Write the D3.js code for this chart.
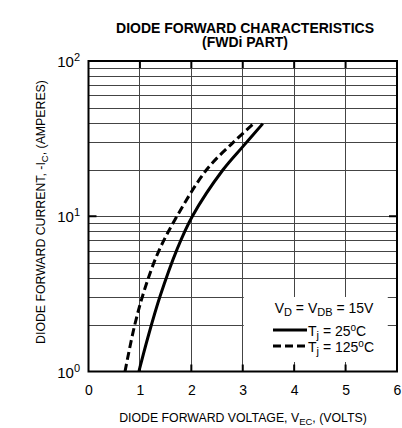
<!DOCTYPE html>
<meta charset="utf-8" />
<head>
  <script src="https://cdn.jsdelivr.net/npm/d3@7"></script>
  <title>Diode forward characteristics</title>
  <style>
    body { margin: 0; background: #fff; }
    svg text { font-family: "Liberation Sans", Arial, sans-serif; fill: #000; }
    .grid line { stroke: #444; stroke-width: 1; shape-rendering: crispEdges; }
  </style>
</head>
<body>
  <svg id="chart" width="402" height="428"></svg>
</body>

<script>
  // values (volts, amperes)
  const vf25 = [0.98, 1.16, 1.39, 1.72, 2.02, 2.62, 3.01, 3.39];
  const if25 = [1.0, 1.68, 3.04, 6.1, 10, 20, 28.3, 39.5];
  const vf125 = [0.71, 0.9, 1.1, 1.36, 1.72, 2.3, 2.82, 3.21];
  const if125 = [1.0, 2.0, 3.45, 5.9, 10, 20, 30, 39.5];
  const xTicks = [0, 1, 2, 3, 4, 5, 6];
  const yTicks = [1, 10, 100];
  const yExp = ["0", "1", "2"];

  const svg = d3.select("#chart");
  const margin = { top: 61, right: 5, bottom: 56.5, left: 88.5 };
  const width = +svg.attr("width"),
    height = +svg.attr("height");

  const x = d3.scaleLinear().domain([0, 6]).range([margin.left, width - margin.right]);
  const y = d3.scaleLog().domain([1, 100]).range([height - margin.bottom, margin.top]);

  // grid
  const grid = svg.append("g").attr("class", "grid");
  const minor = [];
  [1, 10].forEach((d) => {
    for (let k = 2; k <= 9; k++) minor.push(d * k);
  });
  minor.push(10);
  grid
    .selectAll(".h")
    .data(minor)
    .enter()
    .append("line")
    .attr("x1", x(0))
    .attr("x2", x(6))
    .attr("y1", (d) => Math.round(y(d)) + 0.5)
    .attr("y2", (d) => Math.round(y(d)) + 0.5);
  grid
    .selectAll(".v")
    .data([1, 2, 3, 4, 5])
    .enter()
    .append("line")
    .attr("x1", (d) => x(d))
    .attr("x2", (d) => x(d))
    .attr("y1", y(1))
    .attr("y2", y(100));

  // curves
  const line = d3
    .line()
    .curve(d3.curveCatmullRom.alpha(0.5))
    .x((d) => x(d[0]))
    .y((d) => y(d[1]));

  svg
    .append("defs")
    .append("clipPath")
    .attr("id", "clip")
    .append("rect")
    .attr("x", x(0))
    .attr("y", y(100))
    .attr("width", x(6) - x(0))
    .attr("height", y(1) - y(100));

  const g = svg.append("g").attr("clip-path", "url(#clip)");
  g.append("path")
    .attr("fill", "none")
    .attr("stroke", "#000")
    .attr("stroke-width", 3)
    .attr("d", line(vf25.map((v, i) => [v, if25[i]])));
  g.append("path")
    .attr("fill", "none")
    .attr("stroke", "#000")
    .attr("stroke-width", 3)
    .attr("stroke-dasharray", "8,4")
    .attr("d", line(vf125.map((v, i) => [v, if125[i]])));

  // legend box
  const lg = svg.append("g");
  lg.append("rect")
    .attr("x", x(3) + 1)
    .attr("y", 297)
    .attr("width", 144)
    .attr("height", 65)
    .attr("fill", "#fff");
  const vd = lg
    .append("text")
    .attr("x", 324)
    .attr("y", 313)
    .attr("text-anchor", "middle")
    .style("font-size", "14px");
  vd.append("tspan").text("V");
  vd.append("tspan").attr("font-size", "11px").attr("baseline-shift", "-3").text("D");
  vd.append("tspan").text(" = V");
  vd.append("tspan").attr("font-size", "11px").attr("baseline-shift", "-3").text("DB");
  vd.append("tspan").text(" = 15V");

  const legendRows = [
    { y: 330, dash: null, t: "25" },
    { y: 346, dash: "8,4", t: "125" },
  ];
  legendRows.forEach((r) => {
    lg.append("line")
      .attr("x1", 273)
      .attr("x2", 307)
      .attr("y1", r.y)
      .attr("y2", r.y)
      .attr("stroke", "#000")
      .attr("stroke-width", 3)
      .attr("stroke-dasharray", r.dash);
    const t = lg
      .append("text")
      .attr("x", 308)
      .attr("y", r.y + 6)
      .style("font-size", "14px");
    t.append("tspan").text("T");
    t.append("tspan").attr("font-size", "11px").attr("baseline-shift", "-3").text("j");
    t.append("tspan").text(" = " + r.t);
    t.append("tspan").attr("font-size", "10px").attr("baseline-shift", "5").text("o");
    t.append("tspan").text("C");
  });

  // frame
  svg.append("rect")
    .attr("x", x(0))
    .attr("y", y(100))
    .attr("width", x(6) - x(0))
    .attr("height", y(1) - y(100))
    .attr("fill", "none")
    .attr("stroke", "#000")
    .attr("stroke-width", 2);

  // inner ticks
  const tk = svg.append("g").attr("stroke", "#000").attr("stroke-width", 2);
  [1, 2, 3, 4, 5].forEach((d) => {
    tk.append("line").attr("x1", x(d)).attr("x2", x(d)).attr("y1", y(100)).attr("y2", y(100) + 7);
    tk.append("line").attr("x1", x(d)).attr("x2", x(d)).attr("y1", y(1)).attr("y2", y(1) - 7);
  });
  tk.append("line").attr("x1", x(0)).attr("x2", x(0) + 8).attr("y1", y(10)).attr("y2", y(10));
  tk.append("line").attr("x1", x(6)).attr("x2", x(6) - 8).attr("y1", y(10)).attr("y2", y(10));

  // x axis labels
  const xAxis = svg
    .append("g")
    .attr("transform", `translate(0,${y(1)})`)
    .call(d3.axisBottom(x).tickValues(xTicks).tickFormat(d3.format("d")).tickSize(0).tickPadding(14));
  xAxis.select(".domain").remove();
  xAxis.selectAll("text").style("font-size", "14px").attr("font-family", null);

  // y axis labels
  yTicks.forEach((d, i) => {
    const t = svg
      .append("text")
      .attr("x", 80)
      .attr("y", y(d) + 6)
      .attr("text-anchor", "end")
      .style("font-size", "15px");
    t.append("tspan").text("10");
    t.append("tspan").attr("font-size", "11px").attr("dy", -6).text(yExp[i]);
  });

  // titles
  svg.append("text")
    .attr("x", 245)
    .attr("y", 32.5)
    .attr("text-anchor", "middle")
    .style("font-size", "14px")
    .style("font-weight", "bold")
    .text("DIODE FORWARD CHARACTERISTICS");
  svg.append("text")
    .attr("x", 245)
    .attr("y", 47)
    .attr("text-anchor", "middle")
    .style("font-size", "14px")
    .style("font-weight", "bold")
    .text("(FWDi PART)");

  const xt = svg
    .append("text")
    .attr("x", 243)
    .attr("y", 422)
    .attr("text-anchor", "middle")
    .style("font-size", "12.3px");
  xt.append("tspan").text("DIODE FORWARD VOLTAGE, V");
  xt.append("tspan").attr("font-size", "9.5px").attr("baseline-shift", "-3").text("EC");
  xt.append("tspan").text(", (VOLTS)");

  const yt = svg
    .append("text")
    .attr("transform", "translate(45,212) rotate(-90)")
    .attr("text-anchor", "middle")
    .style("font-size", "12.3px");
  yt.append("tspan").text("DIODE FORWARD CURRENT, -I");
  yt.append("tspan").attr("font-size", "9.5px").attr("baseline-shift", "-3").text("C");
  yt.append("tspan").text(", (AMPERES)");
</script>
